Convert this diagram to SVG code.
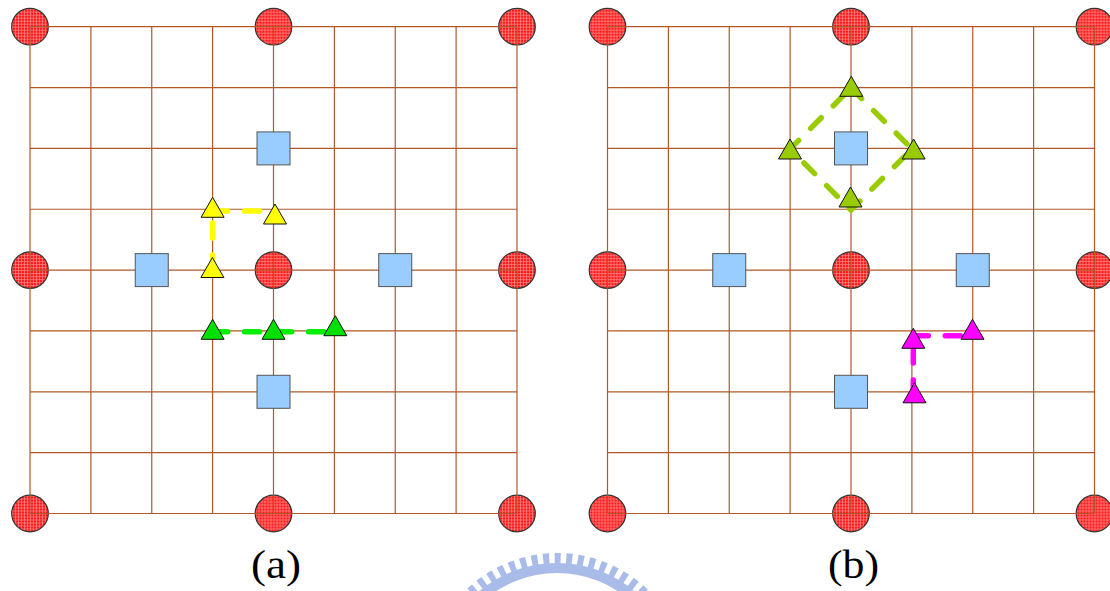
<svg xmlns="http://www.w3.org/2000/svg" width="1110" height="591" viewBox="0 0 1110 591">
<style>
.grid line{stroke:#b0582a;stroke-width:1.2}
.node-c{fill:url(#hatch);stroke:#333;stroke-width:1.2}
.sq{fill:#99ccff;stroke:#555;stroke-width:1}
.tri{stroke:#111;stroke-width:1}
.dash{fill:none;stroke-width:5.5;stroke-linecap:round;stroke-dasharray:15 17}
.lbl{font-family:"Liberation Serif","Times New Roman",serif;font-size:39px;fill:#000}
</style>
<defs>
<pattern id="hatch" width="3" height="3" patternUnits="userSpaceOnUse">
<rect width="3" height="3" fill="#ff1a1a"/>
<path d="M0,0.5H3M0.5,0V3" stroke="#ff8a8a" stroke-width="0.7"/>
</pattern>
<path id="t" d="M0,-10 L11.5,10 L-11.5,10Z"/>
<rect id="s" x="-16.5" y="-16.5" width="33" height="33"/>
<circle id="c" r="18.3"/>
</defs>
<rect width="1110" height="591" fill="#fff"/>

<!-- watermark -->
<g id="watermark" opacity="0.6">
<circle cx="557" cy="684" r="116" fill="none" stroke="#6f8fdc" stroke-width="10"/>
<circle cx="557" cy="684" r="125" fill="none" stroke="#6f8fdc" stroke-width="12" stroke-dasharray="6 5.5"/>
</g>

<!-- circles (a) -->
<g id="circles-a">
<use href="#c" class="node-c" x="30" y="26.7"/>
<use href="#c" class="node-c" x="273.5" y="26.7"/>
<use href="#c" class="node-c" x="517" y="26.7"/>
<use href="#c" class="node-c" x="30" y="270.1"/>
<use href="#c" class="node-c" x="273.5" y="270.1"/>
<use href="#c" class="node-c" x="517" y="270.1"/>
<use href="#c" class="node-c" x="30" y="513.5"/>
<use href="#c" class="node-c" x="273.5" y="513.5"/>
<use href="#c" class="node-c" x="517" y="513.5"/>
</g>
<g id="circles-b">
<use href="#c" class="node-c" x="607.5" y="26.7"/>
<use href="#c" class="node-c" x="851" y="26.7"/>
<use href="#c" class="node-c" x="1094.5" y="26.7"/>
<use href="#c" class="node-c" x="607.5" y="270.1"/>
<use href="#c" class="node-c" x="851" y="270.1"/>
<use href="#c" class="node-c" x="1094.5" y="270.1"/>
<use href="#c" class="node-c" x="607.5" y="513.5"/>
<use href="#c" class="node-c" x="851" y="513.5"/>
<use href="#c" class="node-c" x="1094.5" y="513.5"/>
</g>

<!-- grid (a) -->
<g id="grid-a" class="grid">
<line x1="30" y1="26.7" x2="30" y2="513.5"/>
<line x1="90.9" y1="26.7" x2="90.9" y2="513.5"/>
<line x1="151.75" y1="26.7" x2="151.75" y2="513.5"/>
<line x1="212.6" y1="26.7" x2="212.6" y2="513.5"/>
<line x1="273.5" y1="26.7" x2="273.5" y2="513.5"/>
<line x1="334.4" y1="26.7" x2="334.4" y2="513.5"/>
<line x1="395.25" y1="26.7" x2="395.25" y2="513.5"/>
<line x1="456.1" y1="26.7" x2="456.1" y2="513.5"/>
<line x1="517" y1="26.7" x2="517" y2="513.5"/>
<line x1="30" y1="26.7" x2="517" y2="26.7"/>
<line x1="30" y1="87.55" x2="517" y2="87.55"/>
<line x1="30" y1="148.4" x2="517" y2="148.4"/>
<line x1="30" y1="209.25" x2="517" y2="209.25"/>
<line x1="30" y1="270.1" x2="517" y2="270.1"/>
<line x1="30" y1="330.95" x2="517" y2="330.95"/>
<line x1="30" y1="391.8" x2="517" y2="391.8"/>
<line x1="30" y1="452.65" x2="517" y2="452.65"/>
<line x1="30" y1="513.5" x2="517" y2="513.5"/>
</g>
<!-- grid (b) -->
<g id="grid-b" class="grid">
<line x1="607.5" y1="26.7" x2="607.5" y2="513.5"/>
<line x1="668.4" y1="26.7" x2="668.4" y2="513.5"/>
<line x1="729.25" y1="26.7" x2="729.25" y2="513.5"/>
<line x1="790.1" y1="26.7" x2="790.1" y2="513.5"/>
<line x1="851" y1="26.7" x2="851" y2="513.5"/>
<line x1="911.9" y1="26.7" x2="911.9" y2="513.5"/>
<line x1="972.75" y1="26.7" x2="972.75" y2="513.5"/>
<line x1="1033.6" y1="26.7" x2="1033.6" y2="513.5"/>
<line x1="1094.5" y1="26.7" x2="1094.5" y2="513.5"/>
<line x1="607.5" y1="26.7" x2="1094.5" y2="26.7"/>
<line x1="607.5" y1="87.55" x2="1094.5" y2="87.55"/>
<line x1="607.5" y1="148.4" x2="1094.5" y2="148.4"/>
<line x1="607.5" y1="209.25" x2="1094.5" y2="209.25"/>
<line x1="607.5" y1="270.1" x2="1094.5" y2="270.1"/>
<line x1="607.5" y1="330.95" x2="1094.5" y2="330.95"/>
<line x1="607.5" y1="391.8" x2="1094.5" y2="391.8"/>
<line x1="607.5" y1="452.65" x2="1094.5" y2="452.65"/>
<line x1="607.5" y1="513.5" x2="1094.5" y2="513.5"/>
</g>

<!-- squares -->
<g id="squares-a">
<use href="#s" class="sq" x="273.5" y="148.4"/>
<use href="#s" class="sq" x="151.75" y="270.1"/>
<use href="#s" class="sq" x="395.25" y="270.1"/>
<use href="#s" class="sq" x="273.5" y="391.8"/>
</g>
<g id="squares-b">
<use href="#s" class="sq" x="851" y="148.4"/>
<use href="#s" class="sq" x="729.25" y="270.1"/>
<use href="#s" class="sq" x="972.75" y="270.1"/>
<use href="#s" class="sq" x="851" y="391.8"/>
</g>

<!-- connectors -->
<g id="connectors">
<path class="dash" stroke="#ffff00" d="M212.6,211 H273.5"/>
<path class="dash" stroke="#ffff00" d="M212.6,223 V271"/>
<path class="dash" stroke="#00ee00" d="M212.6,331.7 H335"/>
<path class="dash" stroke="#99cc00" d="M851,88 L912,149 L851,210 L790,149 Z"/>
<path class="dash" stroke="#ff00ff" d="M913.3,335.7 H972.5"/>
<path class="dash" stroke="#ff00ff" d="M913.3,348 V393"/>
</g>

<!-- triangles -->
<g id="triangles-yellow">
<use href="#t" class="tri" fill="#ffff00" x="212.6" y="207.3"/>
<use href="#t" class="tri" fill="#ffff00" x="275" y="214"/>
<use href="#t" class="tri" fill="#ffff00" x="212.4" y="267.5"/>
</g>
<g id="triangles-green">
<use href="#t" class="tri" fill="#00e000" x="212.6" y="329.3"/>
<use href="#t" class="tri" fill="#00e000" x="273.5" y="329.3"/>
<use href="#t" class="tri" fill="#00e000" x="335.3" y="325.7"/>
</g>
<g id="triangles-olive">
<use href="#t" class="tri" fill="#99cc00" x="851.3" y="86.3"/>
<use href="#t" class="tri" fill="#99cc00" x="790" y="149"/>
<use href="#t" class="tri" fill="#99cc00" x="913.6" y="149"/>
<use href="#t" class="tri" fill="#99cc00" x="850.5" y="197"/>
</g>
<g id="triangles-magenta">
<use href="#t" class="tri" fill="#ff00ff" x="913.3" y="338.3"/>
<use href="#t" class="tri" fill="#ff00ff" x="972.5" y="329.3"/>
<use href="#t" class="tri" fill="#ff00ff" x="914.5" y="392.8"/>
</g>

<!-- labels -->
<g id="label-a"><text class="lbl" x="251" y="578" textLength="50" lengthAdjust="spacingAndGlyphs">(a)</text></g>
<g id="label-b"><text class="lbl" x="828" y="578" textLength="51" lengthAdjust="spacingAndGlyphs">(b)</text></g>
</svg>
